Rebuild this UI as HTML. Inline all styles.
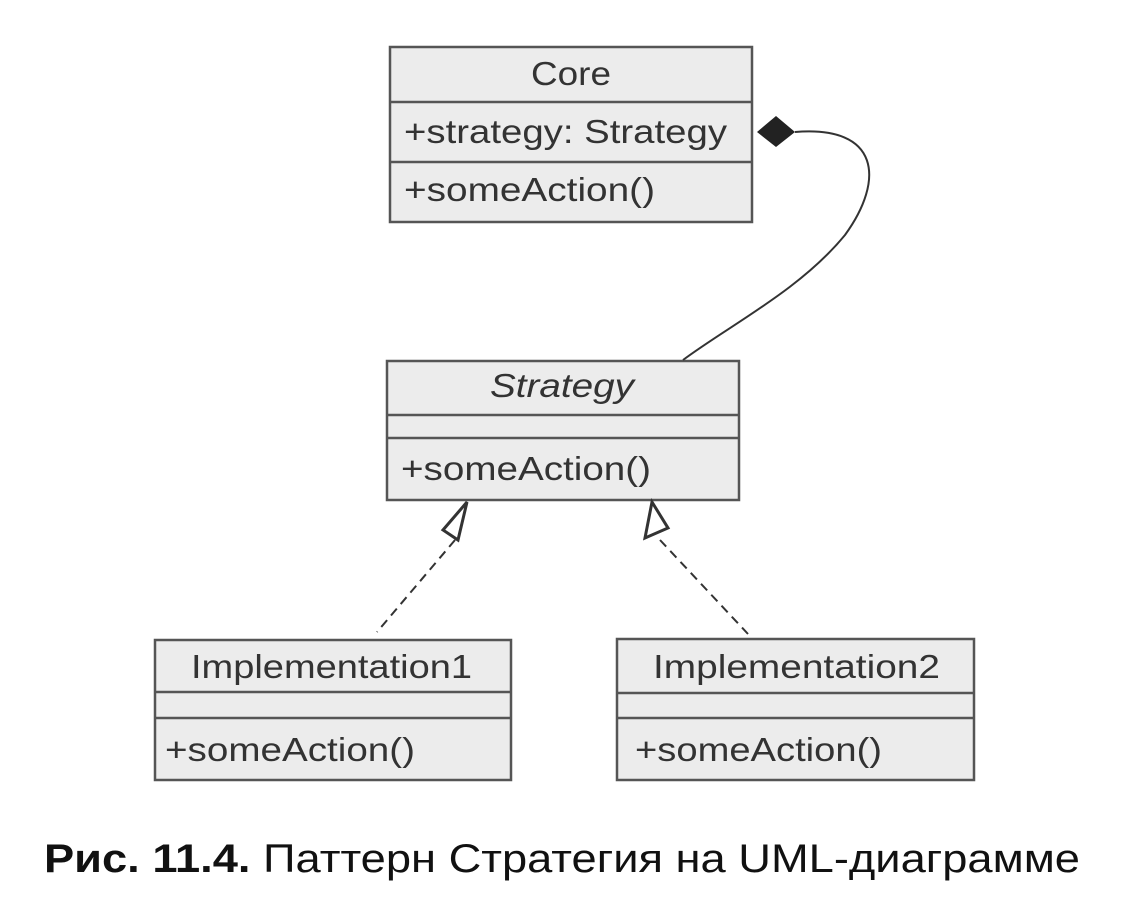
<!DOCTYPE html>
<html><head><meta charset="utf-8"><style>
body{margin:0;background:#fff;}
svg{display:block}
</style></head><body>
<svg width="1144" height="904" xmlns="http://www.w3.org/2000/svg" font-family="Liberation Sans, sans-serif">
<rect width="1144" height="904" fill="#fff"/>
<g fill="#ececec" stroke="#555" stroke-width="2.5">
<rect x="390" y="47" width="362" height="175"/>
<line x1="390" y1="102" x2="752" y2="102"/>
<line x1="390" y1="162" x2="752" y2="162"/>
<rect x="387" y="361" width="352" height="139"/>
<line x1="387" y1="415" x2="739" y2="415"/>
<line x1="387" y1="438" x2="739" y2="438"/>
<rect x="155" y="640" width="356" height="140"/>
<line x1="155" y1="692" x2="511" y2="692"/>
<line x1="155" y1="718" x2="511" y2="718"/>
<rect x="617" y="639" width="357" height="141"/>
<line x1="617" y1="693" x2="974" y2="693"/>
<line x1="617" y1="718" x2="974" y2="718"/>
</g>
<g fill="#333" font-size="33">
<text x="531" y="85" textLength="80" lengthAdjust="spacingAndGlyphs">Core</text>
<text x="404" y="143" textLength="323" lengthAdjust="spacingAndGlyphs">+strategy: Strategy</text>
<text x="404" y="201" textLength="251" lengthAdjust="spacingAndGlyphs">+someAction()</text>
<text x="490" y="397" font-style="italic" textLength="144" lengthAdjust="spacingAndGlyphs">Strategy</text>
<text x="401" y="480" textLength="250" lengthAdjust="spacingAndGlyphs">+someAction()</text>
<text x="191" y="678" textLength="281" lengthAdjust="spacingAndGlyphs">Implementation1</text>
<text x="165" y="761" textLength="250" lengthAdjust="spacingAndGlyphs">+someAction()</text>
<text x="653" y="678" textLength="287" lengthAdjust="spacingAndGlyphs">Implementation2</text>
<text x="635" y="761" textLength="247" lengthAdjust="spacingAndGlyphs">+someAction()</text>
</g>
<path d="M795,132 C880,125 885,180 845,235 C800,290 730,325 683,360" fill="none" stroke="#333" stroke-width="2"/>
<polygon points="757,132 776,116 795,132 776,147" fill="#222"/>
<g stroke="#333" stroke-width="2" fill="none">
<line x1="455" y1="540" x2="377" y2="632" stroke-dasharray="9,6"/>
<line x1="660" y1="540" x2="748" y2="634" stroke-dasharray="9,6"/>
<polygon points="467,502 443,530 458,540" fill="#fff" stroke-width="3"/>
<polygon points="652,502 645,538 668,528" fill="#fff" stroke-width="3"/>
</g>
<text x="44" y="872" font-size="40" fill="#111" textLength="1036" lengthAdjust="spacingAndGlyphs"><tspan font-weight="bold">Рис. 11.4.</tspan> Паттерн Стратегия на UML-диаграмме</text>
</svg>
</body></html>
